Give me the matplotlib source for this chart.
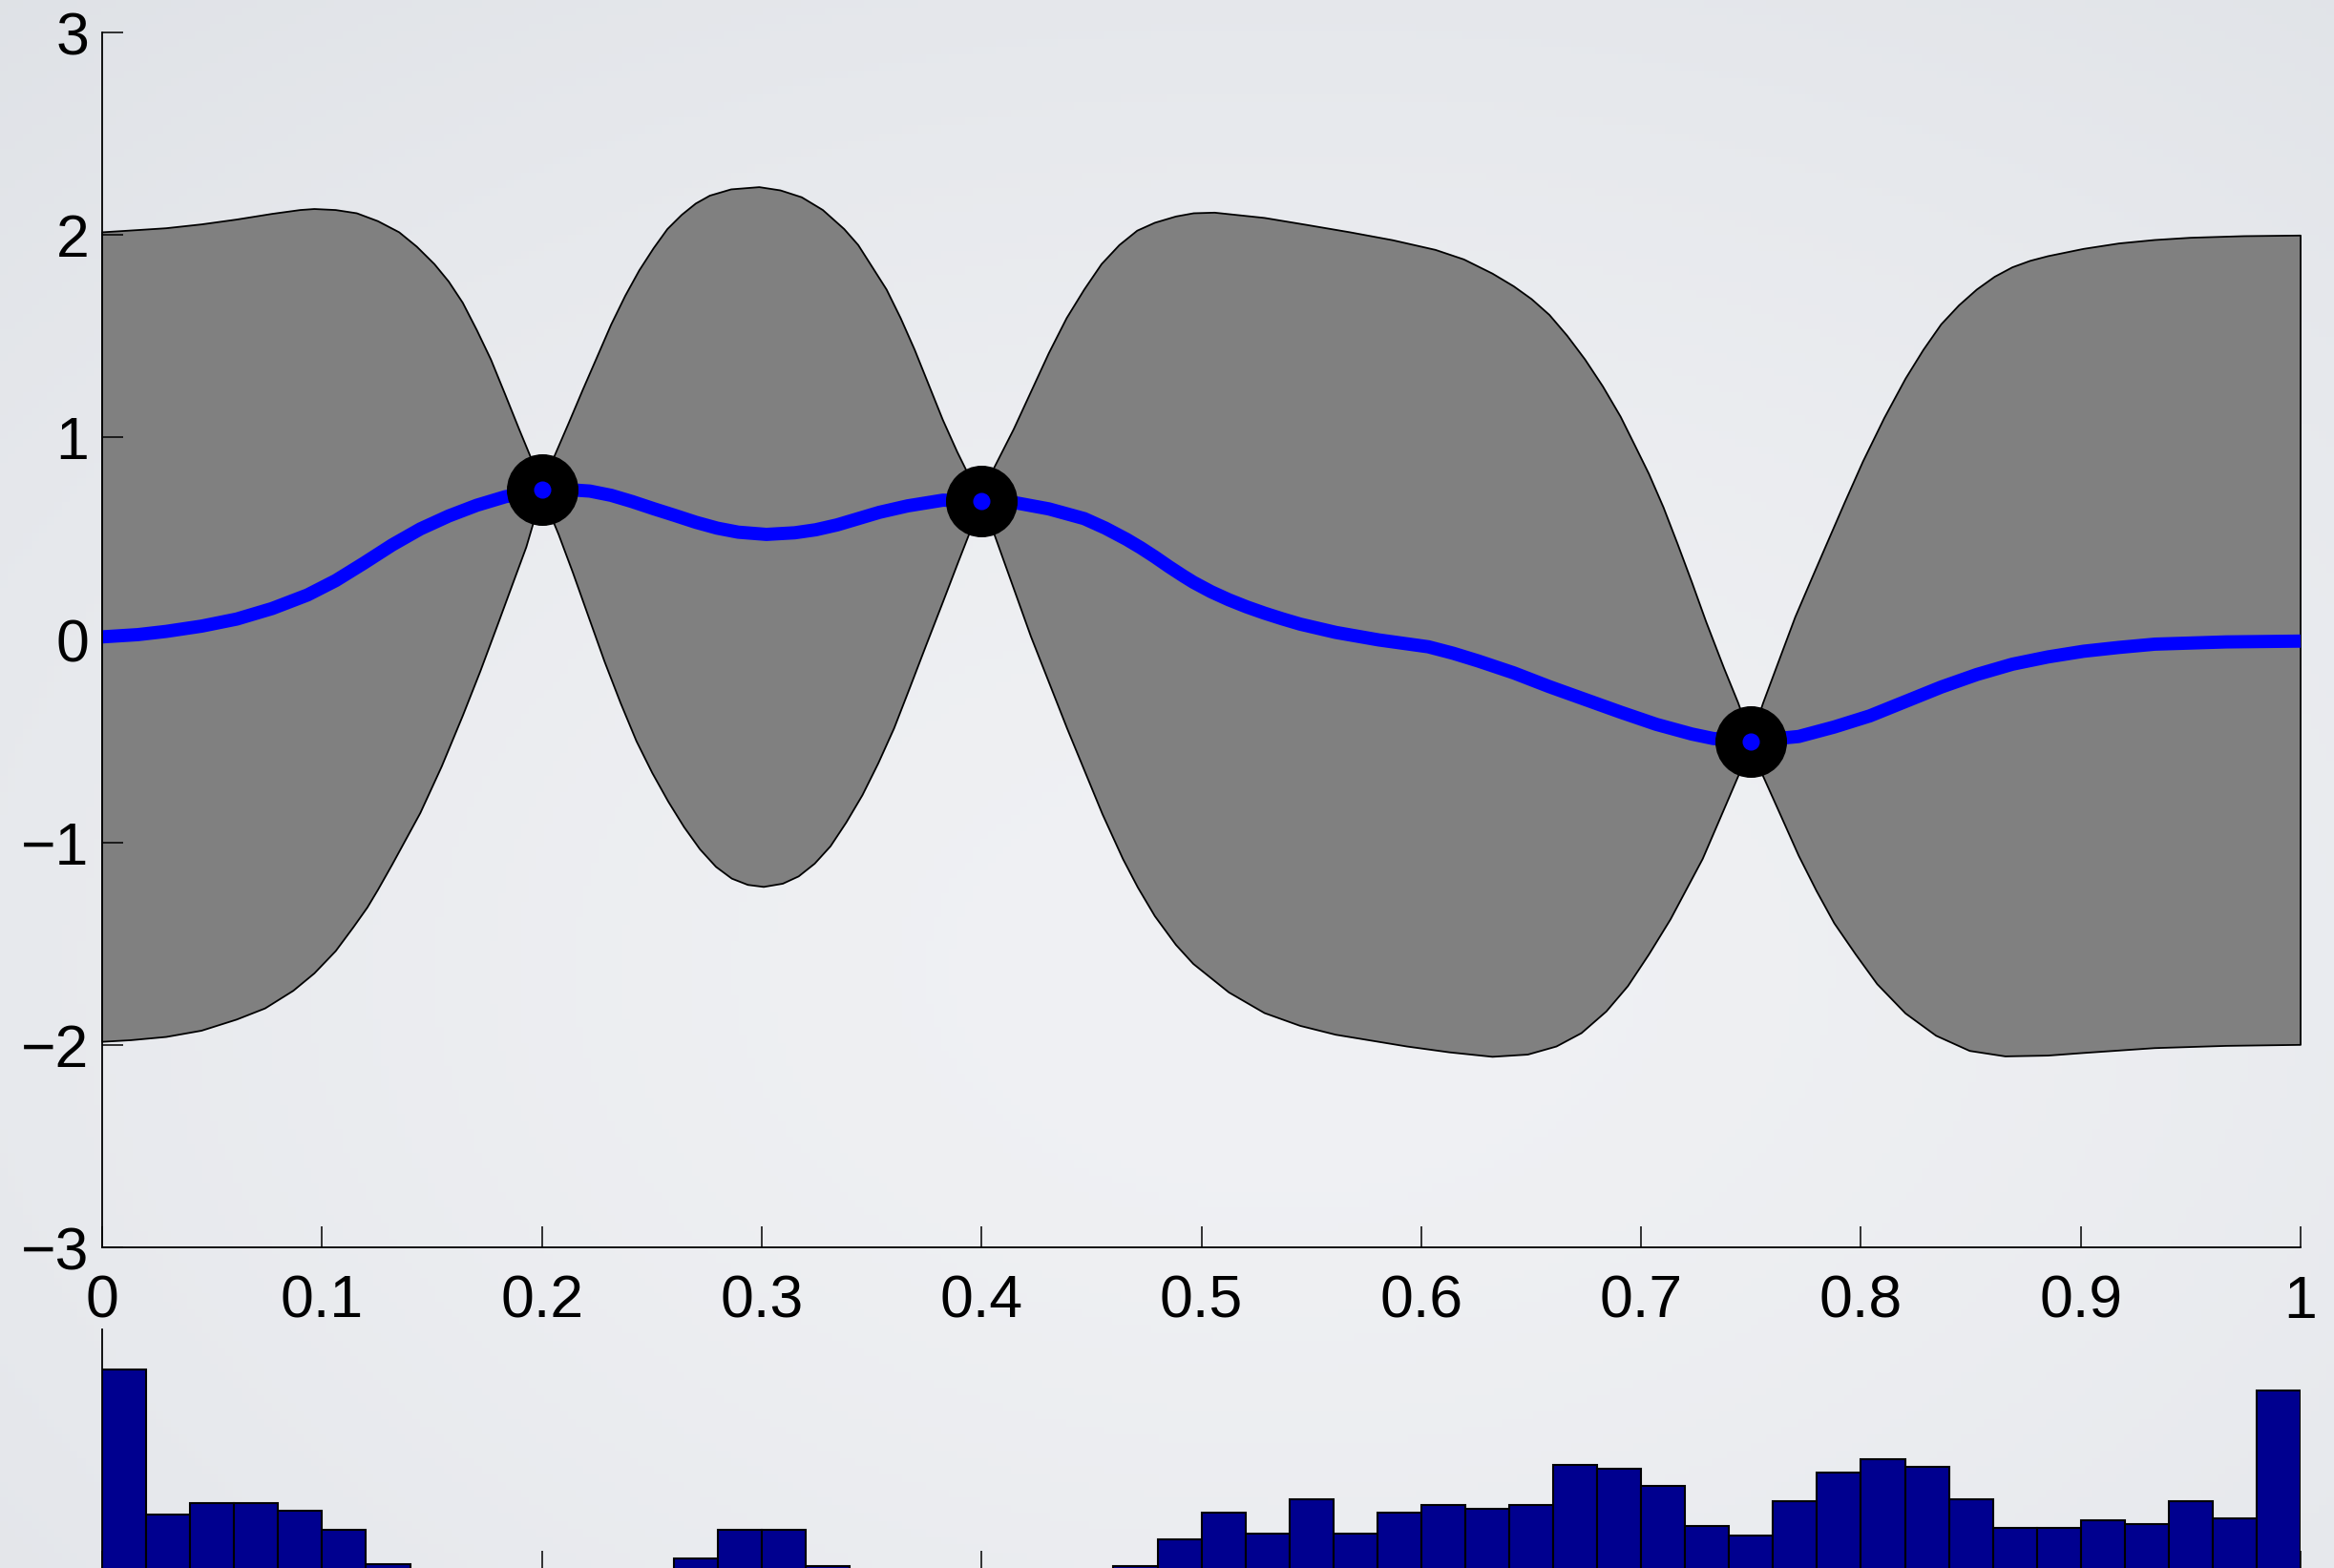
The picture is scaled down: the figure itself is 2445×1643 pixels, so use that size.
#!/usr/bin/python
# -*- coding: UTF-8 -*-

import numpy as np
import matplotlib
matplotlib.use('Agg')
import matplotlib.pyplot as plt

plt.rcParams['font.family'] = ['Liberation Sans', 'DejaVu Sans']

# posterior mean
mean_x = [0.0000, 0.0162, 0.0291, 0.0452, 0.0612, 0.0773, 0.0934, 0.1062, 0.1190,
          0.1319, 0.1447, 0.1576, 0.1704, 0.1833, 0.2000,
          0.2121, 0.2218, 0.2315, 0.2411, 0.2508, 0.2604, 0.2700, 0.2797, 0.2893,
          0.3021, 0.3150, 0.3246, 0.3343, 0.3439, 0.3535, 0.3664, 0.3824, 0.4000,
          0.4146, 0.4306, 0.4467, 0.4563, 0.4659, 0.4724, 0.4788, 0.4852, 0.4917,
          0.4963, 0.5044, 0.5125, 0.5206, 0.5287, 0.5368, 0.5449, 0.5611, 0.5806,
          0.6032, 0.6145, 0.6259, 0.6421, 0.6583, 0.6745, 0.6907, 0.7069, 0.7231,
          0.7328, 0.7500,
          0.7717, 0.7879, 0.8041, 0.8203, 0.8365, 0.8527, 0.8689, 0.8851, 0.9013,
          0.9175, 0.9337, 0.9661, 1.0000]
mean_y = [0.015, 0.026, 0.042, 0.068, 0.103, 0.155, 0.222, 0.293, 0.379,
          0.469, 0.548, 0.612, 0.665, 0.707, 0.741,
          0.742, 0.735, 0.714, 0.683, 0.648, 0.615, 0.581, 0.552, 0.532,
          0.521, 0.529, 0.544, 0.568, 0.599, 0.630, 0.662, 0.690, 0.686,
          0.679, 0.647, 0.599, 0.552, 0.497, 0.455, 0.410, 0.362, 0.316,
          0.285, 0.238, 0.198, 0.163, 0.132, 0.104, 0.078, 0.037, 0.000,
          -0.034, -0.066, -0.104, -0.163, -0.231, -0.294, -0.357, -0.417, -0.465,
          -0.487, -0.500,
          -0.477, -0.430, -0.375, -0.304, -0.233, -0.171, -0.120, -0.084, -0.056,
          -0.037, -0.021, -0.010, -0.006]

# upper edge of the confidence band
upper_x = [0.0000, 0.0162, 0.0291, 0.0452, 0.0612, 0.0773, 0.0901, 0.0965, 0.1062,
           0.1158, 0.1254, 0.1351, 0.1431, 0.1511, 0.1576, 0.1640, 0.1704, 0.1768,
           0.1833, 0.1897, 0.1945, 0.2000,
           0.2058, 0.2122, 0.2186, 0.2251, 0.2315, 0.2379, 0.2443, 0.2508, 0.2571,
           0.2636, 0.2700, 0.2764, 0.2861, 0.2989, 0.3085, 0.3182, 0.3278, 0.3375,
           0.3439, 0.3503, 0.3568, 0.3632, 0.3696, 0.3760, 0.3824, 0.3889, 0.3953,
           0.4000,
           0.4050, 0.4146, 0.4226, 0.4306, 0.4387, 0.4467, 0.4546, 0.4627, 0.4708,
           0.4788, 0.4884, 0.4965,
           0.5060, 0.5287, 0.5481, 0.5676, 0.5870, 0.6065, 0.6194, 0.6324, 0.6421,
           0.6502, 0.6583, 0.6664, 0.6745, 0.6826, 0.6907, 0.6972, 0.7036, 0.7102,
           0.7166, 0.7231, 0.7296, 0.7377, 0.7442, 0.7500,
           0.7555, 0.7620, 0.7701, 0.7782, 0.7847, 0.7927, 0.8009, 0.8106, 0.8203,
           0.8284, 0.8365, 0.8446, 0.8527, 0.8608, 0.8689, 0.8770, 0.8851, 0.9013,
           0.9175, 0.9337, 0.9499, 0.9742, 1.0000]
upper_y = [2.013, 2.024, 2.033, 2.052, 2.076, 2.104, 2.123, 2.128, 2.123,
           2.107, 2.068, 2.013, 1.942, 1.856, 1.770, 1.665, 1.530, 1.385,
           1.212, 1.039, 0.913, 0.760,
           0.910, 1.071, 1.235, 1.397, 1.557, 1.699, 1.825, 1.934, 2.029,
           2.099, 2.155, 2.194, 2.225, 2.236, 2.220, 2.186, 2.123, 2.029,
           1.950, 1.841, 1.730, 1.589, 1.432, 1.259, 1.086, 0.929, 0.788,
           0.710,
           0.835, 1.040, 1.228, 1.416, 1.589, 1.730, 1.856, 1.950, 2.021,
           2.060, 2.091, 2.107,
           2.110, 2.084, 2.049, 2.013, 1.974, 1.926, 1.879, 1.809, 1.746,
           1.683, 1.605, 1.502, 1.385, 1.252, 1.102, 0.960, 0.819, 0.654,
           0.474, 0.285, 0.089, -0.139, -0.312, -0.490,
           -0.312, -0.123, 0.112, 0.317, 0.480, 0.680, 0.880, 1.095, 1.290,
           1.432, 1.558, 1.652, 1.730, 1.793, 1.840, 1.872, 1.895, 1.931,
           1.958, 1.975, 1.986, 1.994, 1.997]

# lower edge of the confidence band
lower_x = [0.0000, 0.0130, 0.0291, 0.0452, 0.0612, 0.0741, 0.0869, 0.0965, 0.1062,
           0.1142, 0.1206, 0.1254, 0.1319, 0.1447, 0.1544, 0.1640, 0.1720, 0.1801,
           0.1865, 0.1929, 0.2000,
           0.2076, 0.2141, 0.2213, 0.2285, 0.2358, 0.2430, 0.2502, 0.2575, 0.2647,
           0.2719, 0.2792, 0.2864, 0.2937, 0.3009, 0.3096, 0.3168, 0.3241, 0.3313,
           0.3385, 0.3458, 0.3530, 0.3602, 0.3675, 0.3747, 0.3820, 0.3892, 0.3943,
           0.4000,
           0.4058, 0.4167, 0.4224, 0.4389, 0.4550, 0.4643, 0.4711, 0.4788, 0.4884,
           0.4963, 0.5125, 0.5287, 0.5449, 0.5611, 0.5935, 0.6129, 0.6324, 0.6485,
           0.6615, 0.6729, 0.6842, 0.6940, 0.7036, 0.7134, 0.7280, 0.7361, 0.7442,
           0.7500,
           0.7555, 0.7636, 0.7717, 0.7798, 0.7879, 0.7976, 0.8074, 0.8203, 0.8342,
           0.8495, 0.8657, 0.8851, 0.9013, 0.9337, 0.9661, 1.0000]
lower_y = [-1.985, -1.977, -1.961, -1.930, -1.875, -1.820, -1.733, -1.647, -1.537,
           -1.420, -1.322, -1.235, -1.110, -0.855, -0.626, -0.375, -0.155, 0.081,
           0.270, 0.458, 0.720,
           0.521, 0.332, 0.112, -0.107, -0.312, -0.500, -0.657, -0.799, -0.925,
           -1.034, -1.121, -1.179, -1.210, -1.220, -1.204, -1.168, -1.105, -1.019,
           -0.901, -0.767, -0.610, -0.437, -0.233, -0.029, 0.175, 0.379, 0.521,
           0.680,
           0.521, 0.191, 0.018, -0.437, -0.861, -1.082, -1.223, -1.364, -1.506,
           -1.600, -1.741, -1.843, -1.906, -1.950, -2.008, -2.037, -2.059, -2.048,
           -2.008, -1.942, -1.835, -1.710, -1.553, -1.380, -1.082, -0.878, -0.673,
           -0.510,
           -0.673, -0.869, -1.066, -1.240, -1.400, -1.553, -1.700, -1.845, -1.955,
           -2.030, -2.057, -2.053, -2.040, -2.016, -2.005, -2.000]

# observations
obs_x = [0.20, 0.40, 0.75]
obs_y = [0.741, 0.686, -0.500]

# histogram of samples, 50 bins on [0, 1]
bin_left = [i * 0.02 for i in range(50)]
counts = [106, 30, 36, 36, 32, 22, 4, 0, 0, 0,
          0, 0, 0, 7, 22, 22, 3, 0, 0, 0,
          0, 0, 0, 3, 17, 31, 20, 38, 20, 31,
          35, 33, 35, 56, 54, 45, 24, 19, 37, 52,
          59, 55, 38, 23, 23, 27, 25, 37, 28, 95]

xticks = [0, 0.1, 0.2, 0.3, 0.4, 0.5, 0.6, 0.7, 0.8, 0.9, 1]
xticklabels = ['0', '0.1', '0.2', '0.3', '0.4', '0.5', '0.6', '0.7', '0.8', '0.9', '1']
yticks = [-3, -2, -1, 0, 1, 2, 3]
yticklabels = ['\u22123', '\u22122', '\u22121', '0', '1', '2', '3']


def main():
    fig = plt.figure(figsize=(24.45, 16.43), dpi=100)

    # soft grey backdrop
    bg = fig.add_axes([0, 0, 1, 1], zorder=-10)
    gy, gx = np.mgrid[0:1:200j, 0:1:300j]
    r = np.sqrt(((gx - 0.55) / 0.9) ** 2 + ((gy - 0.62) / 0.9) ** 2)
    r = np.clip(r, 0, 1)
    c0 = np.array([240, 241, 244]) / 255.0
    c1 = np.array([221, 224, 229]) / 255.0
    img = c0[None, None, :] + (c1 - c0)[None, None, :] * (r ** 1.6)[:, :, None]
    bg.imshow(img, extent=[0, 1, 0, 1], aspect='auto', origin='upper')
    bg.axis('off')

    ax = fig.add_axes([0.0438, 0.2045, 0.9419, 0.7748])
    ax.set_facecolor('none')
    band_x = np.concatenate([upper_x, lower_x[::-1]])
    band_y = np.concatenate([upper_y, lower_y[::-1]])
    ax.fill(band_x, band_y, facecolor='#808080', edgecolor='k',
            linewidth=1.3, joinstyle='round', clip_on=False, zorder=1)
    ax.plot(mean_x, mean_y, color='#0000FF', linewidth=10,
            solid_capstyle='butt', solid_joinstyle='round',
            clip_on=False, zorder=2)
    ax.plot(obs_x, obs_y, 'o', color='k', markersize=53, zorder=3)
    ax.plot(obs_x, obs_y, 'o', color='#0000FF', markersize=13,
            markeredgewidth=0, zorder=4)

    ax.set_xlim(0, 1)
    ax.set_ylim(-3, 3)
    ax.set_xticks(xticks)
    ax.set_xticklabels(xticklabels)
    ax.set_yticks(yticks)
    ax.set_yticklabels(yticklabels)
    for s in ['top', 'right']:
        ax.spines[s].set_visible(False)
    for s in ['left', 'bottom']:
        ax.spines[s].set_linewidth(1.3)
    ax.tick_params(direction='in', length=16, width=1.1, labelsize=45,
                   colors='k')
    ax.tick_params(axis='x', pad=20)
    ax.tick_params(axis='y', pad=10)

    # histogram underneath, running off the bottom edge
    ax2 = fig.add_axes([0.0438, -0.0024, 0.9419, 0.1546])
    ax2.set_facecolor('none')
    ax2.bar(bin_left, counts, width=0.02, align='edge', color='#00008F',
            edgecolor='k', linewidth=1.5)
    ax2.set_xlim(0, 1)
    ax2.set_ylim(0, 127)
    ax2.set_axisbelow(True)
    ax2.set_xticks(xticks)
    ax2.set_xticklabels([])
    ax2.set_yticks([])
    for s in ['top', 'right']:
        ax2.spines[s].set_visible(False)
    ax2.spines['left'].set_linewidth(1.3)
    ax2.tick_params(direction='in', length=16, width=1.1)

    fig.savefig('out.png', dpi=100)


if __name__ == '__main__':
    main()
